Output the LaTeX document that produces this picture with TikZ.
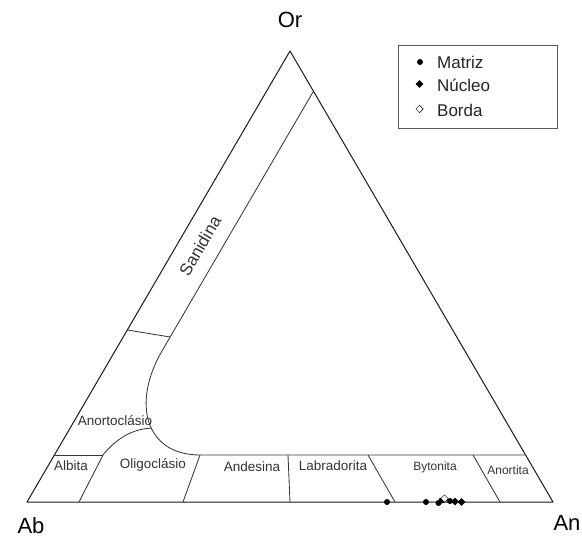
\documentclass[tikz,border=0pt]{standalone}
\usepackage{fontspec}
\setmainfont{Liberation Sans}
\usetikzlibrary{shapes.geometric}
\begin{document}
\begin{tikzpicture}[x=1pt,y=-1pt,
  edge/.style={draw=black!90, line width=1pt, line join=round},
  inner/.style={draw=black!78, line width=0.85pt},
  lbl/.style={font=\fontsize{13.5}{13.5}\selectfont, text=black!80, inner sep=0pt},
  slbl/.style={font=\fontsize{12}{12}\selectfont, text=black!80, inner sep=0pt},
  corner/.style={font=\fontsize{22}{22}\selectfont, inner sep=0pt},
  legtxt/.style={font=\fontsize{17}{17}\selectfont, text=black!85, inner sep=0pt, anchor=west},
  dotm/.style={circle, fill=black, inner sep=0pt, minimum size=6pt},
  diam/.style={diamond, fill=black, inner sep=0pt, minimum size=8pt},
  odiam/.style={diamond, draw=black, fill=white, line width=0.5pt, inner sep=0pt, minimum size=7.5pt},
]
\useasboundingbox (0,0) rectangle (582,538);
% triangle
\coordinate (Or) at (290,51);
\coordinate (Ab) at (27,502);
\coordinate (An) at (553,502);
\draw[edge] (Ab) -- (Or) -- (An) -- cycle;
% Sanidina boundary and curved field boundary
\coordinate (s1) at (313,92);
\coordinate (s3) at (162,351);
\coordinate (h0) at (200,455);
\coordinate (hR) at (525.6,455);
\draw[inner] (s1) -- (s3) .. controls (131.7,402.9) and (145,455) .. (h0)
  coordinate[pos=0.55] (j) -- (hR);
% Sanidina / Anortoclasio cross line
\coordinate (cL) at (127.3,330);
\coordinate (cR) at (170.1,337);
\draw[inner] (cL) -- (cR);
% Albita top line
\coordinate (aL) at (54.4,455);
\coordinate (aR) at (103,455);
\draw[inner] (aL) -- (aR);
% Anortoclasio / Oligoclasio curve
\draw[inner] (aR) .. controls (115,440) and (131,429) .. (j);
% dividers
\coordinate (d1t) at (103,455); \coordinate (d1b) at (79,502);
\coordinate (d2t) at (200,455); \coordinate (d2b) at (183,502);
\coordinate (d3t) at (288,455); \coordinate (d3b) at (290,502);
\coordinate (d4t) at (368,455); \coordinate (d4b) at (395,502);
\coordinate (d5t) at (473,455); \coordinate (d5b) at (500,502);
\draw[inner] (d1t) -- (d1b);
\draw[inner] (d2t) -- (d2b);
\draw[inner] (d3t) -- (d3b);
\draw[inner] (d4t) -- (d4b);
\draw[inner] (d5t) -- (d5b);
% field labels
\node[lbl, font=\fontsize{17}{17}\selectfont, rotate=60] (san) at (200,246) {Sanidina};
\node[lbl] (ano) at (115,421) {Anortoclásio};
\node[lbl] (alb) at (71,466) {Albita};
\node[lbl] (oli) at (153,465) {Oligoclásio};
\node[lbl] (and) at (252,467) {Andesina};
\node[lbl] (lab) at (333,466) {Labradorita};
\node[slbl] (byt) at (435,467) {Bytonita};
\node[slbl] (anr) at (508,470) {Anortita};
% corner labels
\node[corner] (tOr) at (290,20) {Or};
\node[corner] (tAb) at (31,526) {Ab};
\node[corner] (tAn) at (567,523) {An};
% data points
\node[dotm] (p1) at (387,502) {};
\node[dotm] (p2) at (426,502) {};
\node[dotm] (p3) at (438.5,503) {};
\node[dotm] (p4) at (441.5,500.5) {};
\node[odiam] (p5) at (444.5,498.5) {};
\node[dotm] (p6) at (450,501) {};
\node[diam] (p7) at (455,501.5) {};
\node[diam] (p8) at (461.5,502) {};
% legend
\node[draw=black!65, line width=1pt, fill=white, minimum width=159pt, minimum height=83pt, inner sep=0pt] (leg) at (477.5,86.5) {};
\node[dotm] (lm1) at (420,62) {};
\node[diam] (lm2) at (419.5,84) {};
\node[odiam] (lm3) at (419.5,109) {};
\node[legtxt] (lt1) at (437,62) {Matriz};
\node[legtxt] (lt2) at (437,85) {Núcleo};
\node[legtxt] (lt3) at (437,110) {Borda};
\end{tikzpicture}
\end{document}
